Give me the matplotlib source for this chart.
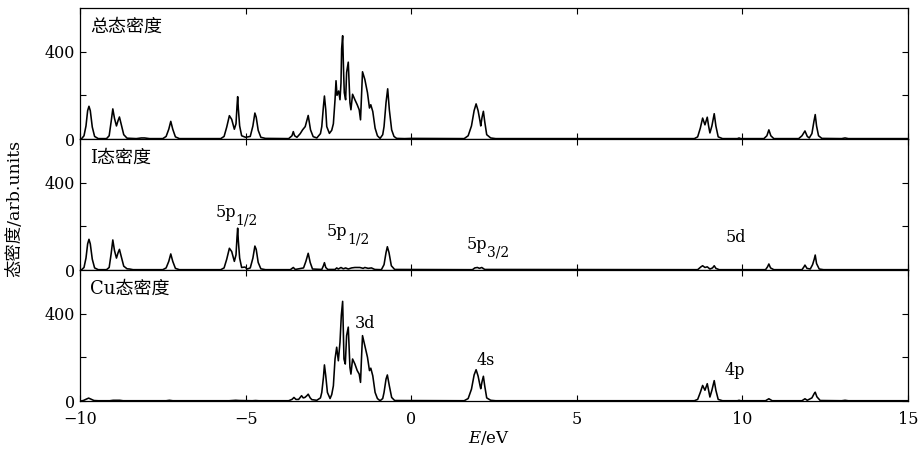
import numpy as np
import matplotlib
matplotlib.use('Agg')
import matplotlib.pyplot as plt

plt.rcParams['font.family'] = ['DejaVu Serif', 'Noto Sans CJK SC']
plt.rcParams['mathtext.fontset'] = 'dejavuserif'

# 总态密度 (E, DOS)
total_pts = [
    (-10.0, 0), (-9.95, 2), (-9.88, 15), (-9.82, 60), (-9.77, 130), (-9.73, 150), (-9.69, 130),
    (-9.63, 55), (-9.56, 12), (-9.45, 2), (-9.2, 2), (-9.12, 15), (-9.06, 80), (-9.01, 138),
    (-8.96, 95), (-8.90, 60), (-8.85, 85), (-8.81, 101), (-8.76, 70), (-8.68, 20), (-8.58, 4),
    (-8.3, 2), (-8.15, 5), (-8.05, 5), (-7.9, 2), (-7.5, 2), (-7.40, 12), (-7.32, 45), (-7.26, 81),
    (-7.20, 45), (-7.12, 10), (-7.0, 2), (-5.75, 2), (-5.65, 12), (-5.57, 55), (-5.49, 107),
    (-5.42, 90), (-5.34, 45), (-5.29, 70), (-5.26, 150), (-5.24, 194), (-5.22, 140), (-5.18, 60),
    (-5.12, 15), (-5.0, 8), (-4.86, 12), (-4.78, 60), (-4.72, 119), (-4.68, 100), (-4.62, 40),
    (-4.54, 8), (-4.4, 3), (-3.7, 2), (-3.6, 15), (-3.56, 34), (-3.52, 15), (-3.45, 8), (-3.35, 25),
    (-3.28, 42), (-3.20, 57), (-3.11, 108), (-3.04, 42), (-2.96, 11), (-2.85, 5), (-2.74, 25),
    (-2.70, 57), (-2.65, 150), (-2.62, 197), (-2.58, 134), (-2.55, 57), (-2.47, 26), (-2.40, 40),
    (-2.35, 70), (-2.30, 180), (-2.27, 267), (-2.24, 200), (-2.19, 220), (-2.15, 180), (-2.12, 257),
    (-2.10, 414), (-2.07, 473), (-2.04, 300), (-2.02, 212), (-1.98, 180), (-1.95, 305), (-1.90, 352),
    (-1.85, 167), (-1.82, 134), (-1.77, 205), (-1.70, 180), (-1.63, 157), (-1.57, 134), (-1.53, 88),
    (-1.50, 200), (-1.47, 308), (-1.40, 273), (-1.32, 212), (-1.26, 142), (-1.22, 157), (-1.16, 126),
    (-1.09, 50), (-1.02, 15), (-0.94, 3), (-0.86, 20), (-0.82, 57), (-0.76, 167), (-0.71, 230),
    (-0.66, 134), (-0.59, 42), (-0.52, 12), (-0.44, 3), (-0.2, 2), (0.0, 3), (1.6, 2), (1.72, 15),
    (1.82, 60), (1.90, 130), (1.96, 161), (2.02, 130), (2.08, 80), (2.10, 60), (2.14, 100),
    (2.18, 127), (2.22, 80), (2.28, 20), (2.40, 5), (2.55, 2), (8.55, 2), (8.65, 10), (8.73, 50),
    (8.80, 96), (8.87, 65), (8.94, 100), (8.98, 60), (9.02, 28), (9.08, 60), (9.15, 116), (9.20, 60),
    (9.27, 10), (9.4, 2), (9.85, 2), (9.90, 5), (9.95, 2), (10.65, 2), (10.74, 15), (10.80, 42),
    (10.86, 15), (10.95, 2), (11.7, 2), (11.80, 15), (11.89, 37), (11.96, 12), (12.02, 5),
    (12.10, 25), (12.16, 80), (12.20, 112), (12.24, 60), (12.30, 15), (12.40, 3), (13.0, 2),
    (13.1, 5), (13.2, 2), (15.0, 2),
]

# I态密度
i_pts = [
    (-10.0, 0), (-9.95, 2), (-9.88, 12), (-9.82, 55), (-9.77, 120), (-9.73, 141), (-9.69, 120),
    (-9.63, 50), (-9.56, 10), (-9.45, 2), (-9.2, 2), (-9.12, 12), (-9.06, 75), (-9.01, 138),
    (-8.96, 90), (-8.90, 55), (-8.85, 80), (-8.81, 95), (-8.76, 65), (-8.68, 18), (-8.58, 6),
    (-8.5, 5), (-8.4, 2), (-7.5, 2), (-7.40, 10), (-7.32, 40), (-7.26, 74), (-7.20, 40), (-7.12, 8),
    (-7.0, 2), (-5.75, 2), (-5.65, 10), (-5.57, 50), (-5.49, 100), (-5.42, 85), (-5.34, 40),
    (-5.29, 70), (-5.26, 150), (-5.24, 192), (-5.22, 135), (-5.18, 55), (-5.12, 12), (-5.02, 14),
    (-4.95, 5), (-4.86, 10), (-4.78, 55), (-4.72, 110), (-4.68, 95), (-4.62, 35), (-4.54, 6),
    (-4.4, 2), (-3.65, 2), (-3.56, 12), (-3.50, 3), (-3.25, 10), (-3.18, 40), (-3.11, 77),
    (-3.05, 35), (-2.98, 5), (-2.70, 3), (-2.65, 20), (-2.62, 34), (-2.58, 12), (-2.52, 3),
    (-2.30, 3), (-2.25, 10), (-2.20, 5), (-2.12, 12), (-2.05, 6), (-1.98, 10), (-1.90, 5),
    (-1.80, 10), (-1.70, 12), (-1.55, 12), (-1.45, 8), (-1.40, 12), (-1.30, 8), (-1.20, 10),
    (-1.10, 3), (-0.90, 2), (-0.82, 25), (-0.76, 80), (-0.72, 107), (-0.67, 80), (-0.60, 20),
    (-0.50, 3), (1.85, 2), (1.92, 10), (2.00, 12), (2.06, 8), (2.13, 12), (2.22, 3), (8.65, 2),
    (8.75, 15), (8.80, 20), (8.87, 12), (8.94, 15), (9.02, 5), (9.10, 10), (9.15, 20), (9.20, 8),
    (9.30, 2), (10.70, 2), (10.76, 15), (10.80, 28), (10.85, 10), (10.95, 2), (11.80, 2),
    (11.86, 15), (11.89, 23), (11.95, 8), (12.05, 5), (12.12, 25), (12.17, 50), (12.20, 69),
    (12.24, 30), (12.32, 5), (12.45, 2), (15.0, 2),
]

# Cu态密度
cu_pts = [
    (-10.0, 0), (-9.9, 3), (-9.80, 10), (-9.74, 14), (-9.68, 10), (-9.58, 3), (-9.45, 2),
    (-9.1, 2), (-9.0, 4), (-8.8, 4), (-8.7, 2), (-7.4, 2), (-7.3, 4), (-7.2, 2), (-5.5, 2),
    (-5.3, 4), (-5.2, 3), (-4.8, 2), (-4.7, 3), (-4.6, 2), (-3.7, 2), (-3.60, 8), (-3.54, 17),
    (-3.48, 8), (-3.40, 8), (-3.31, 25), (-3.26, 15), (-3.21, 17), (-3.15, 25), (-3.11, 32),
    (-3.05, 15), (-3.00, 7), (-2.85, 4), (-2.74, 15), (-2.70, 40), (-2.65, 109), (-2.62, 166),
    (-2.58, 116), (-2.53, 40), (-2.45, 12), (-2.40, 30), (-2.35, 70), (-2.30, 193), (-2.25, 247),
    (-2.20, 185), (-2.15, 270), (-2.11, 393), (-2.07, 457), (-2.03, 193), (-1.99, 170),
    (-1.95, 300), (-1.90, 339), (-1.85, 155), (-1.82, 124), (-1.77, 193), (-1.70, 170),
    (-1.63, 140), (-1.57, 124), (-1.53, 86), (-1.50, 200), (-1.47, 300), (-1.40, 254),
    (-1.32, 201), (-1.26, 140), (-1.22, 151), (-1.16, 116), (-1.09, 40), (-1.02, 12), (-0.94, 2),
    (-0.86, 12), (-0.82, 40), (-0.76, 101), (-0.72, 120), (-0.66, 70), (-0.59, 17), (-0.50, 3),
    (1.6, 2), (1.72, 12), (1.82, 55), (1.90, 120), (1.96, 144), (2.02, 115), (2.08, 70),
    (2.10, 57), (2.14, 90), (2.18, 114), (2.22, 70), (2.28, 15), (2.40, 4), (2.55, 2), (8.55, 2),
    (8.65, 8), (8.73, 40), (8.80, 72), (8.87, 50), (8.94, 80), (8.98, 50), (9.02, 19), (9.08, 50),
    (9.15, 94), (9.20, 50), (9.27, 8), (9.4, 2), (9.85, 2), (9.90, 4), (9.95, 2), (10.70, 2),
    (10.80, 11), (10.90, 2), (11.80, 2), (11.89, 11), (11.96, 4), (12.10, 15), (12.17, 35),
    (12.20, 41), (12.25, 20), (12.35, 3), (13.0, 2), (13.1, 4), (13.2, 2), (15.0, 2),
]

panel_titles = ['总态密度', 'I态密度', 'Cu态密度']
# orbital labels: (panel, E of left edge, DOS, text, subscript)
orbital_labels = [
    (1, -5.92, 262, '5p', '1/2'),
    (1, -2.54, 175, '5p', '1/2'),
    (1, 1.68, 115, '5p', '3/2'),
    (1, 9.50, 147, '5d', ''),
    (2, -1.70, 357, '3d', ''),
    (2, 1.97, 188, '4s', ''),
    (2, 9.47, 141, '4p', ''),
]
xticks = [-10, -5, 0, 5, 10, 15]
yticks = [0, 200, 400]
ytick_labels = ['0', '', '400']

fig, axes = plt.subplots(3, 1, figsize=(9.23, 4.59), dpi=100, sharex=True)
fig.subplots_adjust(left=0.0867, right=0.9837, top=0.9826, bottom=0.126, hspace=0)

for ax, pts, title in zip(axes, [total_pts, i_pts, cu_pts], panel_titles):
    e, d = np.array(pts).T
    ax.plot(e, d, color='black', linewidth=1.15)
    ax.set_xlim(-10, 15)
    ax.set_ylim(0, 600)
    ax.set_yticks(yticks)
    ax.set_yticklabels(ytick_labels)
    ax.set_xticks(xticks)
    ax.tick_params(direction='in', top=True, right=True, length=4, width=0.8, labelsize=11.5)
    for s in ax.spines.values():
        s.set_linewidth(0.9)
    ax.text(0.012, 0.855, title, transform=ax.transAxes, fontsize=13,
            ha='left', va='center')

for k, x, y, txt, sub in orbital_labels:
    t = axes[k].text(x, y, txt, fontsize=11.5, ha='left', va='center')
    if sub:
        axes[k].annotate(sub, xy=(1.0, 0.05), xycoords=t, fontsize=10,
                         ha='left', va='center')

axes[2].set_xticklabels([str(t) if t >= 0 else '\u2212' + str(-t) for t in xticks])
axes[2].tick_params(axis='x', pad=7)

fig.text(0.016, 0.545, '态密度/arb.units', rotation=90, fontsize=12.5,
         ha='center', va='center')
fig.text(0.53, 0.045, r'$E$/eV', fontsize=12, ha='center', va='center')

plt.savefig('out.png', dpi=100)
